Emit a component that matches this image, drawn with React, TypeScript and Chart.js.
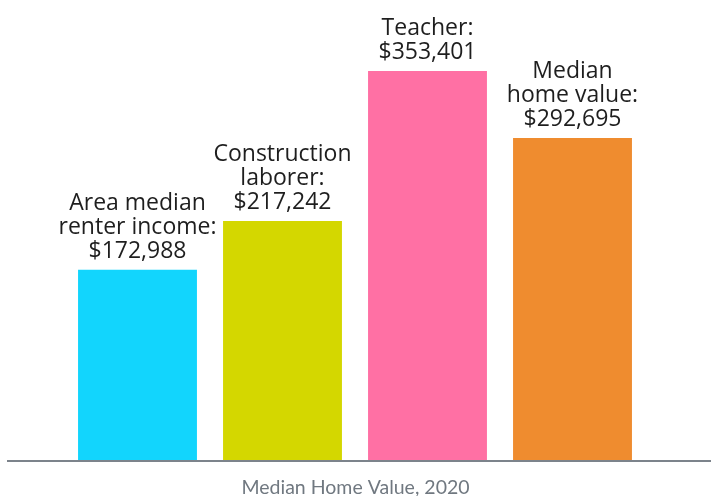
import React, { useEffect, useRef } from "react";
import { Chart, registerables } from "chart.js";

Chart.register(...registerables);

const categories = ["Area median renter income", "Construction laborer", "Teacher", "Median home value"];
const values = [172988, 217242, 353401, 292695];
const labelLines = [
  ["Area median", "renter income:", "$172,988"],
  ["Construction", "laborer:", "$217,242"],
  ["Teacher:", "$353,401"],
  ["Median", "home value:", "$292,695"],
];
const colors = ["#12d5fd", "#d4d700", "#ff70a4", "#ef8c2f"];
const title = "Median Home Value, 2020";

const LABEL_FONT = '23px "Open Sans"';
const TITLE_FONT = '19.5px Lato';

const overlay = {
  id: "overlay",
  afterDatasetsDraw(chart: any) {
    const ctx = chart.ctx;
    const meta = chart.getDatasetMeta(0);
    ctx.save();
    ctx.font = LABEL_FONT;
    ctx.fillStyle = "#1e1e1e";
    ctx.textAlign = "center";
    ctx.textBaseline = "alphabetic";
    meta.data.forEach((bar: any, i: number) => {
      const lines = labelLines[i];
      const n = lines.length;
      lines.forEach((t, j) => {
        ctx.fillText(t, bar.x, bar.y - 12 - (n - 1 - j) * 24);
      });
    });
    const yb = chart.chartArea.bottom;
    ctx.strokeStyle = "#7c838b";
    ctx.lineWidth = 2;
    ctx.beginPath();
    ctx.moveTo(7, yb + 1);
    ctx.lineTo(chart.width, yb + 1);
    ctx.stroke();
    ctx.font = TITLE_FONT;
    ctx.fillStyle = "#707880";
    ctx.textBaseline = "middle";
    ctx.fillText(title, chart.width / 2, 488);
    ctx.restore();
  },
};

export default function App() {
  const ref = useRef<HTMLCanvasElement>(null);
  useEffect(() => {
    document.body.style.margin = "0";
    let chart: Chart | null = null;
    let cancelled = false;
    const make = () => {
      if (cancelled) return;
      chart = new Chart(ref.current!, {
        type: "bar",
        data: {
          labels: categories,
          datasets: [
            {
              data: values,
              backgroundColor: colors,
              borderWidth: 0,
              barPercentage: 0.82,
              categoryPercentage: 1,
            },
          ],
        },
        options: {
          animation: false,
          responsive: false,
          devicePixelRatio: 1,
          layout: { padding: { left: 65, right: 66, top: 0, bottom: 36 } },
          plugins: { legend: { display: false }, tooltip: { enabled: false } },
          scales: {
            x: { display: false },
            y: { display: false, min: 0, max: 418000 },
          },
        },
        plugins: [overlay],
      });
    };
    Promise.all([document.fonts.load(LABEL_FONT), document.fonts.load(TITLE_FONT)])
      .catch(() => null)
      .then(make);
    return () => {
      cancelled = true;
      if (chart) chart.destroy();
    };
  }, []);
  return <canvas ref={ref} width={711} height={496} style={{ display: "block" }} />;
}
